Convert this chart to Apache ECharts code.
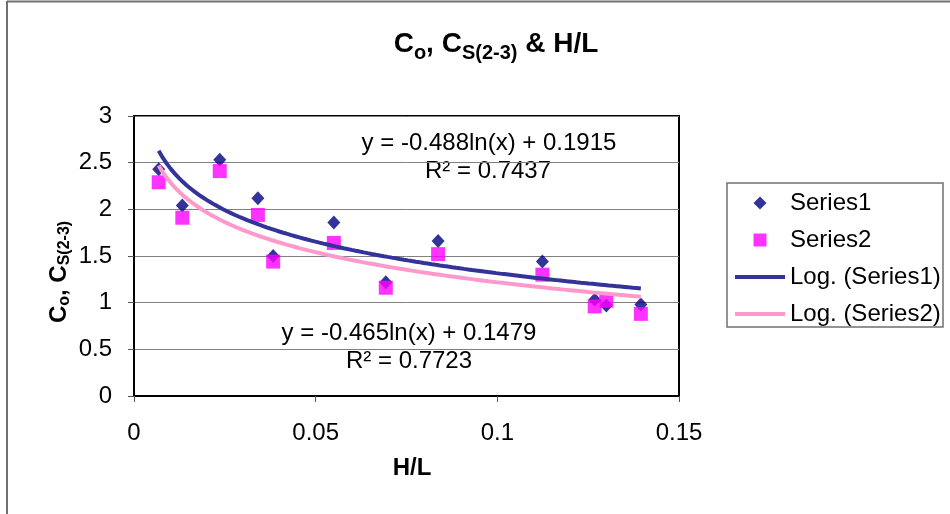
<!DOCTYPE html>
<html>
<head>
<meta charset="utf-8">
<script src="https://cdn.jsdelivr.net/npm/echarts@6/dist/echarts.min.js"></script>
<style>
html,body{margin:0;padding:0;background:#fff;}
#chart{width:950px;height:514px;}
</style>
</head>
<body>
<div id="chart"></div>
<script>
// H/L values (shared by both series)
var xValues = [0.0068, 0.0133, 0.0236, 0.0341, 0.0383, 0.0550, 0.0693, 0.0837, 0.1124, 0.1268, 0.1300, 0.1395];
// Series1: Co
var series1Values = [2.43, 2.04, 2.53, 2.12, 1.50, 1.86, 1.22, 1.66, 1.44, 1.03, 0.97, 0.98];
// Series2: Cs(2-3)
var series2Values = [2.29, 1.91, 2.41, 1.94, 1.44, 1.64, 1.16, 1.52, 1.30, 0.96, 1.02, 0.88];
// Logarithmic trend line coefficients (a*ln(x) + b) as printed on the chart
var trend1Coef = [-0.488, 0.1915];
var trend2Coef = [-0.465, 0.1479];
var trend1Labels = ['y = -0.488ln(x) + 0.1915', 'R\u00B2 = 0.7437'];
var trend2Labels = ['y = -0.465ln(x) + 0.1479', 'R\u00B2 = 0.7723'];
var xTicks = [0, 0.05, 0.1, 0.15];
var yTicks = [0, 0.5, 1, 1.5, 2, 2.5, 3];
var legendNames = ['Series1', 'Series2', 'Log. (Series1)', 'Log. (Series2)'];

function zip(xs, ys) { return xs.map(function (x, i) { return [x, ys[i]]; }); }
function trendPoints(coef) {
  var lo = Math.min.apply(null, xValues), hi = Math.max.apply(null, xValues);
  var pts = [];
  var n = 120;
  for (var i = 0; i <= n; i++) {
    var x = lo + (hi - lo) * i / n;
    pts.push([x, coef[0] * Math.log(x) + coef[1]]);
  }
  return pts;
}

var FONT = '"Liberation Sans", Arial, sans-serif';
var chart = echarts.init(document.getElementById('chart'), null, {renderer: 'canvas'});

var diamondPath = 'path://M0,-1L1,0L0,1L-1,0Z';
var squarePath = 'path://M0,0L1,0L1,1L0,1Z';
var linePath = 'path://M0,0L50,0L50,4L0,4Z';

var option = {
  backgroundColor: '#ffffff',
  animation: false,
  textStyle: {fontFamily: FONT},
  title: {
    text: '{m|C}{s|o}{m|, C}{s|S(2-3)}{m| & H/L}',
    left: 491,
    textAlign: 'center',
    top: 25,
    textStyle: {
      fontFamily: FONT,
      rich: {
        m: {fontSize: 28, fontWeight: 'bold', color: '#000', fontFamily: FONT, lineHeight: 28, verticalAlign: 'top'},
        s: {fontSize: 20, fontWeight: 'bold', color: '#000', fontFamily: FONT, lineHeight: 20, verticalAlign: 'top', padding: [13, 0, 0, 0]}
      }
    }
  },
  grid: {
    left: 134, top: 116, right: 271, bottom: 118,
    show: true, borderColor: '#000', borderWidth: 2, backgroundColor: 'transparent'
  },
  legend: {
    orient: 'vertical',
    left: 730,
    top: 186,
    itemWidth: 50,
    itemHeight: 13,
    itemGap: 13,
    symbolKeepAspect: true,
    textStyle: {fontFamily: FONT, fontSize: 24, color: '#000', lineHeight: 24},
    data: [
      {name: legendNames[0], icon: diamondPath},
      {name: legendNames[1], icon: squarePath},
      {name: legendNames[2], icon: linePath},
      {name: legendNames[3], icon: linePath}
    ]
  },
  xAxis: {
    type: 'value',
    min: xTicks[0], max: xTicks[xTicks.length - 1], interval: 0.05,
    name: 'H/L',
    nameLocation: 'middle',
    nameGap: 60,
    nameTextStyle: {fontFamily: FONT, fontSize: 24, fontWeight: 'bold', color: '#000', padding: [0, 0, 0, 11]},
    axisLine: {show: true, onZero: false, lineStyle: {color: '#000', width: 2}},
    axisTick: {show: true, length: 6, lineStyle: {color: '#555', width: 1}},
    axisLabel: {
      fontFamily: FONT, fontSize: 24, color: '#000', margin: 25,
      formatter: function (v) { return String(Math.round(v * 100) / 100); }
    },
    splitLine: {show: false}
  },
  yAxis: {
    type: 'value',
    min: yTicks[0], max: yTicks[yTicks.length - 1], interval: 0.5,
    axisLine: {show: true, onZero: false, lineStyle: {color: '#000', width: 2}},
    axisTick: {show: true, length: 6, lineStyle: {color: '#555', width: 1}},
    axisLabel: {fontFamily: FONT, fontSize: 24, color: '#000', margin: 22},
    splitLine: {show: true, lineStyle: {color: '#808080', width: 1}}
  },
  series: [
    {
      name: legendNames[0], type: 'scatter',
      symbol: 'diamond', symbolSize: [13, 14],
      itemStyle: {color: '#000080'},
      data: zip(xValues, series1Values)
    },
    {
      name: legendNames[1], type: 'scatter',
      symbol: 'rect', symbolSize: 14,
      itemStyle: {color: '#FF00FF'},
      data: zip(xValues, series2Values)
    },
    {
      name: legendNames[2], type: 'line',
      symbol: 'none', showSymbol: false,
      lineStyle: {color: '#333399', width: 4},
      itemStyle: {color: '#333399'},
      data: trendPoints(trend1Coef)
    },
    {
      name: legendNames[3], type: 'line',
      symbol: 'none', showSymbol: false,
      lineStyle: {color: '#FF99CC', width: 4},
      itemStyle: {color: '#FF99CC'},
      data: trendPoints(trend2Coef)
    }
  ],
  graphic: [
    // outer chart border (top & left visible)
    {type: 'line', shape: {x1: 7, y1: 1.5, x2: 950, y2: 1.5}, style: {stroke: '#707070', lineWidth: 2}, silent: true},
    {type: 'line', shape: {x1: 7, y1: 1, x2: 7, y2: 514}, style: {stroke: '#707070', lineWidth: 2}, silent: true},
    // legend frame
    {type: 'rect', shape: {x: 727, y: 183, width: 216, height: 144}, style: {fill: null, stroke: '#707070', lineWidth: 1.5}, silent: true},
    // y axis title
    {
      type: 'text', x: 59, y: 272, rotation: Math.PI / 2,
      style: {
        text: '{m|C}{s|o}{m|, C}{s|S(2-3)}',
        align: 'center', verticalAlign: 'middle',
        rich: {
          m: {fontSize: 24, fontWeight: 'bold', fill: '#000', fontFamily: FONT, lineHeight: 24, verticalAlign: 'top'},
          s: {fontSize: 16, fontWeight: 'bold', fill: '#000', fontFamily: FONT, lineHeight: 16, verticalAlign: 'top', padding: [10, 0, 0, 0]}
        }
      }
    },
    // trend line equations
    {type: 'text', x: 489, y: 143, style: {text: trend1Labels[0], font: '24px ' + FONT, fill: '#000', align: 'center', verticalAlign: 'middle'}},
    {type: 'text', x: 488, y: 171, style: {text: trend1Labels[1], font: '24px ' + FONT, fill: '#000', align: 'center', verticalAlign: 'middle'}},
    {type: 'text', x: 409, y: 333, style: {text: trend2Labels[0], font: '24px ' + FONT, fill: '#000', align: 'center', verticalAlign: 'middle'}},
    {type: 'text', x: 409, y: 361, style: {text: trend2Labels[1], font: '24px ' + FONT, fill: '#000', align: 'center', verticalAlign: 'middle'}}
  ]
};
chart.setOption(option);
</script>
</body>
</html>
